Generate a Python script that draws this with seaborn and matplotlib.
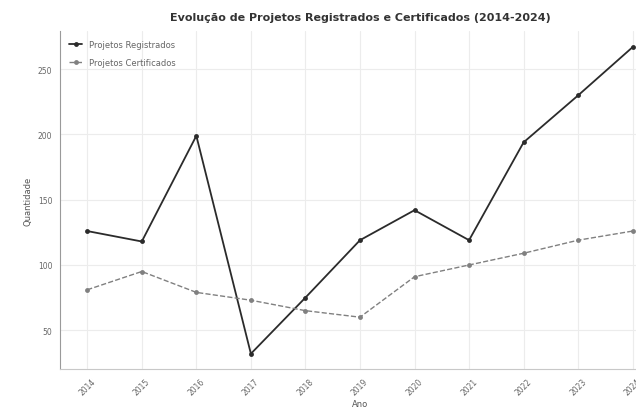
import matplotlib
matplotlib.use("Agg")
import matplotlib.pyplot as plt
import pandas as pd
import seaborn as sns

anos = [2014, 2015, 2016, 2017, 2018, 2019, 2020, 2021, 2022, 2023, 2024]
registrados = [126, 118, 199, 32, 75, 119, 142, 119, 194, 230, 267]
certificados = [81, 95, 79, 73, 65, 60, 91, 100, 109, 119, 126]

df = pd.DataFrame({"Ano": anos, "Registrados": registrados, "Certificados": certificados})

sns.set_style("whitegrid", {"grid.color": "#ececec", "axes.edgecolor": "#9a9a9a"})
plt.rcParams["font.family"] = ["DejaVu Sans"]

fig = plt.figure(figsize=(6.36, 4.14), dpi=100)
ax = fig.add_axes([0.0943, 0.1063, 0.9434, 0.8164])

sns.lineplot(data=df, x="Ano", y="Registrados", ax=ax, color="#2b2b2b", linewidth=1.3,
             marker="o", markersize=3.5, markeredgewidth=0, label="Projetos Registrados")
sns.lineplot(data=df, x="Ano", y="Certificados", ax=ax, color="#808080", linewidth=1.0,
             linestyle="--", marker="o", markersize=3.5, markeredgewidth=0,
             label="Projetos Certificados")

ax.set_title("Evolução de Projetos Registrados e Certificados (2014-2024)",
             fontsize=8, fontweight="bold", color="#333333", pad=8)
ax.set_xlabel("Ano", fontsize=6, color="#555555", labelpad=2)
ax.set_ylabel("Quantidade", fontsize=6, color="#555555")
ax.set_xticks(anos)
ax.set_xticklabels([str(a) for a in anos], rotation=45, fontsize=5.5, color="#666666")
ax.set_yticks([50, 100, 150, 200, 250])
ax.tick_params(axis="y", labelsize=5.5, colors="#666666", length=2)
ax.tick_params(axis="x", length=2, colors="#666666")
ax.set_ylim(20.3, 279.3)
ax.set_xlim(2013.5, 2024.5)
sns.despine(ax=ax, top=True, right=True)
ax.spines["bottom"].set_color("#c8c8c8")

ax.legend(loc="upper left", frameon=False, fontsize=6, handlelength=1.6,
          labelcolor="#666666", borderaxespad=0.7, labelspacing=1.0)

fig.savefig("out.png", dpi=100)
